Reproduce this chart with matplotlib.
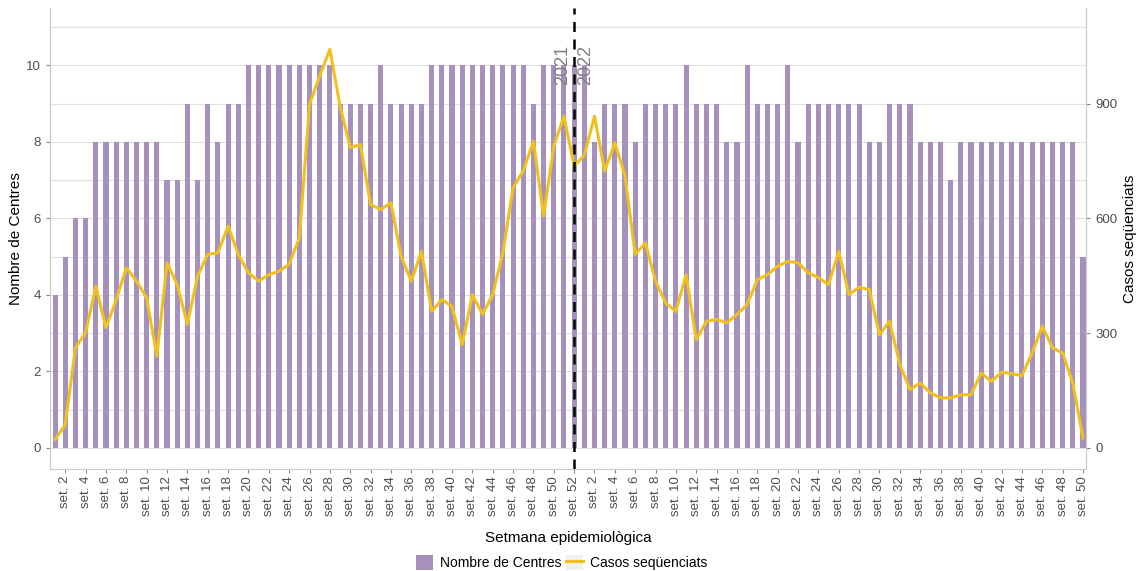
import matplotlib
matplotlib.use("Agg")
import matplotlib.pyplot as plt
from matplotlib.patches import Patch
from matplotlib.lines import Line2D
import numpy as np

plt.rcParams['font.family'] = ['Liberation Sans', 'DejaVu Sans']

# setmanes: 2021 (1-52) i 2022 (1-50)
weeks_2021 = list(range(1, 53))
weeks_2022 = list(range(1, 51))

centres_2021 = [4, 5, 6, 6, 8, 8, 8, 8, 8, 8, 8, 7, 7, 9, 7, 9, 8, 9, 9, 10,
                10, 10, 10, 10, 10, 10, 10, 10, 9, 9, 9, 9, 10, 9, 9, 9, 9,
                10, 10, 10, 10, 10, 10, 10, 10, 10, 10, 9, 10, 10, 10, 10]
centres_2022 = [10, 8, 9, 9, 9, 8, 9, 9, 9, 9, 10, 9, 9, 9, 8, 8, 10, 9, 9, 9,
                10, 8, 9, 9, 9, 9, 9, 9, 8, 8, 9, 9, 9, 8, 8, 8, 7, 8, 8, 8,
                8, 8, 8, 8, 8, 8, 8, 8, 8, 5]

casos_2021 = [22, 61, 262, 301, 423, 314, 388, 471, 436, 392, 240, 484, 427,
              323, 449, 506, 510, 580, 506, 458, 436, 453, 462, 480, 549, 898,
              972, 1042, 894, 785, 793, 636, 623, 641, 501, 436, 514, 357, 388,
              370, 270, 401, 349, 401, 510, 680, 724, 802, 606, 789, 867, 737]
casos_2022 = [765, 867, 724, 798, 711, 506, 536, 436, 379, 357, 453, 283, 331,
              336, 327, 349, 375, 440, 453, 475, 488, 484, 458, 445, 427, 514,
              401, 420, 414, 296, 331, 218, 153, 170, 144, 131, 131, 139, 139,
              196, 174, 198, 194, 189, 248, 318, 262, 248, 170, 26]

week_labels = ["set. %d" % w for w in weeks_2021 + weeks_2022]
centres = centres_2021 + centres_2022
casos = casos_2021 + casos_2022
x = np.arange(len(week_labels))
year_break = len(weeks_2021) - 1

bar_color = '#a591bb'
line_color = '#f2c01e'
grid_color = '#e0e0e0'
text_grey = '#4d4d4d'

fig = plt.figure(figsize=(11.39, 5.71), dpi=100)
ax = fig.add_axes([0.0439, 0.1786, 0.9096, 0.8074])

ax.bar(x, centres, width=0.5, color=bar_color, zorder=2)

ylo, yhi = -0.55, 11.5
ax.set_ylim(ylo, yhi)
ax.set_xlim(-0.5, len(x) - 0.7)
ax.set_yticks(range(0, 11, 2))
ax.set_yticks(range(1, 12, 2), minor=True)
ax.grid(axis='y', which='both', color=grid_color, linewidth=0.8, zorder=0)
ax.set_axisbelow(True)

ticks = [i for i, lab in enumerate(week_labels) if int(lab.split()[1]) % 2 == 0]
ax.set_xticks(ticks)
ax.set_xticklabels([week_labels[i] for i in ticks], rotation=90, fontsize=9.5,
                   color=text_grey)
ax.tick_params(axis='x', length=3, color='#888888', pad=2)
ax.tick_params(axis='y', which='major', length=3, color='#888888',
               labelsize=9.5, labelcolor=text_grey)
ax.tick_params(axis='y', which='minor', length=0)

ax.set_ylabel("Nombre de Centres", fontsize=11, labelpad=2)
ax.set_xlabel("Setmana epidemiològica", fontsize=11, labelpad=11)

for side in ['left', 'right', 'bottom']:
    ax.spines[side].set_color('#cccccc')
ax.spines['top'].set_visible(False)

ax2 = ax.twinx()
ax2.plot(x, casos, color=line_color, linewidth=2.2, zorder=3)
ax2.set_ylim(ylo * 100, yhi * 100)
ax2.set_yticks([0, 300, 600, 900])
ax2.tick_params(axis='y', length=3, color='#888888', labelsize=9.5,
                labelcolor=text_grey)
ax2.set_ylabel("Casos seqüenciats", fontsize=11, rotation=90, labelpad=4)
for side in ['left', 'right', 'bottom']:
    ax2.spines[side].set_color('#cccccc')
ax2.spines['top'].set_visible(False)

ax2.axvline(year_break, color='black', linestyle=(0, (4, 3)), linewidth=1.8,
            zorder=4)
ax2.text(year_break - 0.3, 1000, "2021", rotation=90, ha='right', va='center',
         fontsize=13, color='#808080')
ax2.text(year_break + 0.3, 1000, "2022", rotation=90, ha='left', va='center',
         fontsize=13, color='#808080')

handles = [Patch(facecolor=bar_color),
           (Patch(facecolor='#f0f0f0', edgecolor='none'),
            Line2D([0], [0], color=line_color, linewidth=2.2))]
labels = ["Nombre de Centres", "Casos seqüenciats"]
fig.legend(handles=handles, labels=labels, loc='lower center', ncol=2,
           frameon=False, fontsize=10, bbox_to_anchor=(0.493, -0.02),
           columnspacing=0.3, handlelength=1.25, handleheight=1.25,
           handletextpad=0.5)

fig.savefig("out.png", dpi=100)
